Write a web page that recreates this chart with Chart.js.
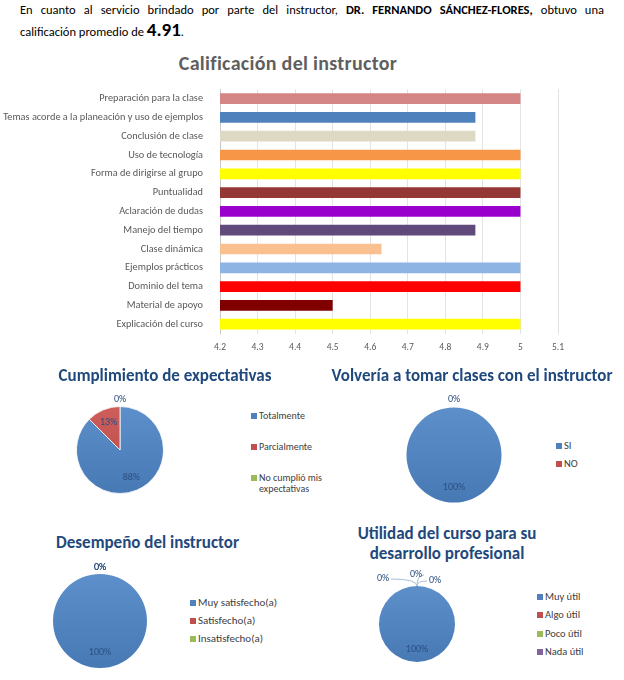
<!DOCTYPE html>
<html lang="es">
<head>
<meta charset="utf-8">
<title>Calificación del instructor</title>
<script src="https://cdn.jsdelivr.net/npm/chart.js@4.4.0/dist/chart.umd.min.js"></script>
<style>
  html, body { margin: 0; padding: 0; background: #fff; }
  body { width: 624px; height: 680px; position: relative; overflow: hidden; font-family: Carlito, Lato, sans-serif; }
  #intro { position: absolute; left: 20px; top: 0; width: 584px; margin: 0; font-size: 12.5px; line-height: 20px; color: #000; }
  #intro .l1 { display: block; text-align: justify; text-align-last: justify; }
  #intro .big { font-size: 19px; line-height: 1; }
  .ttl { position: absolute; margin: 0; font-weight: bold; color: #1f497d; text-align: center; white-space: nowrap; }
  #barTitle { left: 88px; width: 400px; top: 51px; font-size: 20px; color: #5f5f5f; letter-spacing: 0.3px; }
  canvas { position: absolute; }
  ul.lg { position: absolute; margin: 0; padding: 0; list-style: none; color: #404040; }
  ul.lg li { display: flex; align-items: flex-start; }
  ul.lg .box { flex: none; width: 6px; height: 6px; margin-right: 2px; }
  ul.lg .txt { display: inline-block; }
</style>
</head>
<body>
<p id="intro"><span class="l1">En cuanto al servicio brindado por parte del instructor, <b>DR. FERNANDO SÁNCHEZ-FLORES,</b> obtuvo una</span>calificación promedio de <b class="big">4.91</b>.</p>

<div id="barTitle" class="ttl">Calificación del instructor</div>
<canvas id="barChart" width="600" height="296" style="left:0;top:74px"></canvas>

<div class="ttl" style="left:40px;width:250px;top:365px;font-size:17px">Cumplimiento de expectativas</div>
<canvas id="pieExp" width="120" height="120" style="left:60px;top:390px"></canvas>
<ul id="lgExp" class="lg" style="left:251px;top:410px;font-size:10px;line-height:11px"></ul>

<div class="ttl" style="left:320px;width:304px;top:365px;font-size:17px">Volvería a tomar clases con el instructor</div>
<canvas id="pieVol" width="130" height="130" style="left:389px;top:390px"></canvas>
<ul id="lgVol" class="lg" style="left:556px;top:440px;font-size:10.5px;line-height:12px"></ul>

<div class="ttl" style="left:20px;width:255px;top:532px;font-size:17px">Desempeño del instructor</div>
<canvas id="pieDes" width="130" height="130" style="left:35px;top:556px"></canvas>
<ul id="lgDes" class="lg" style="left:190px;top:597px;font-size:11px;line-height:12px"></ul>

<div class="ttl" style="left:320px;width:254px;top:524px;font-size:17px;line-height:20px">Utilidad del curso para su<br>desarrollo profesional</div>
<canvas id="pieUti" width="140" height="118" style="left:347px;top:565px"></canvas>
<ul id="lgUti" class="lg" style="left:537px;top:591px;font-size:10.5px;line-height:12px"></ul>

<script>
// ---- data ----
const barLabels = [
  'Preparación para la clase',
  'Temas acorde a la planeación y uso de ejemplos',
  'Conclusión de clase',
  'Uso de tecnología',
  'Forma de dirigirse al grupo',
  'Puntualidad',
  'Aclaración de dudas',
  'Manejo del tiempo',
  'Clase dinámica',
  'Ejemplos prácticos',
  'Dominio del tema',
  'Material de apoyo',
  'Explicación del curso'
];
const barValues = [5, 4.88, 4.88, 5, 5, 5, 5, 4.88, 4.63, 5, 5, 4.5, 5];
const xTickLabels = ['4.2', '4.3', '4.4', '4.5', '4.6', '4.7', '4.8', '4.9', '5', '5.1'];

const expLabels = ['Totalmente', 'Parcialmente', 'No cumplió mis expectativas'];
const expValues = [87.5, 12.5, 0];

const volLabels = ['SI', 'NO'];
const volValues = [100, 0];

const desLabels = ['Muy satisfecho(a)', 'Satisfecho(a)', 'Insatisfecho(a)'];
const desValues = [100, 0, 0];

const utiLabels = ['Muy útil', 'Algo útil', 'Poco útil', 'Nada útil'];
const utiValues = [100, 0, 0, 0];

// ---- styles ----
const barColors = ['#d48585', '#4f81bd', '#ddd9c3', '#f79646', '#ffff00', '#953735', '#9900cc',
                   '#604a7b', '#fac090', '#8eb4e3', '#ff0000', '#800000', '#ffff00'];
const pieColors = ['#4f81bd', '#c0504d', '#9bbb59', '#8064a2'];

Chart.defaults.font.family = 'Carlito, Lato, sans-serif';
Chart.defaults.animation = false;

function shade(hex, amt) {
  const n = parseInt(hex.slice(1), 16);
  const f = c => Math.max(0, Math.min(255, Math.round(c + amt)));
  return `rgb(${f(n >> 16)}, ${f((n >> 8) & 255)}, ${f(n & 255)})`;
}

// soft top-to-bottom gradient like the office pies
function pieFill(ctx) {
  const base = pieColors[ctx.dataIndex];
  const area = ctx.chart.chartArea;
  if (!area) return base;
  const g = ctx.chart.ctx.createLinearGradient(0, area.top, 0, area.bottom);
  g.addColorStop(0, shade(base, 14));
  g.addColorStop(1, shade(base, -8));
  return g;
}

// legend built as html list from the chart's own legend items
const htmlLegend = {
  id: 'htmlLegend',
  afterUpdate(chart, args, opts) {
    const ul = document.getElementById(opts.containerID);
    if (!ul) return;
    ul.innerHTML = '';
    const items = chart.options.plugins.legend.labels.generateLabels(chart);
    items.forEach((item, i) => {
      const li = document.createElement('li');
      if (i > 0) li.style.marginTop = opts.gap + 'px';
      const box = document.createElement('span');
      box.className = 'box';
      box.style.background = typeof item.fillStyle === 'string' ? item.fillStyle : pieColors[item.index];
      box.style.marginTop = opts.boxTop + 'px';
      const txt = document.createElement('span');
      txt.className = 'txt';
      if (opts.textWidth) txt.style.width = opts.textWidth + 'px';
      txt.textContent = item.text;
      li.appendChild(box);
      li.appendChild(txt);
      ul.appendChild(li);
    });
  }
};

// percentage labels, zero slices go outside the pie
const pieLabels = {
  id: 'pieLabels',
  afterDatasetsDraw(chart, args, opts) {
    const ctx = chart.ctx;
    const data = chart.data.datasets[0].data;
    const total = data.reduce((a, b) => a + b, 0);
    const meta = chart.getDatasetMeta(0);
    const offs = opts.zeroOffsets || [[0, -8]];
    let z = 0;
    ctx.save();
    ctx.font = opts.font || '10px Carlito, Lato, sans-serif';
    ctx.fillStyle = opts.color || '#2b4f80';
    ctx.textAlign = 'center';
    ctx.textBaseline = 'middle';
    meta.data.forEach((arc, i) => {
      const p = arc.getProps(['x', 'y', 'startAngle', 'endAngle', 'outerRadius'], true);
      const mid = (p.startAngle + p.endAngle) / 2;
      const txt = Math.round(data[i] / total * 100) + '%';
      let lx, ly;
      if (data[i] > 0) {
        lx = p.x + Math.cos(mid) * p.outerRadius * 0.68;
        ly = p.y + Math.sin(mid) * p.outerRadius * 0.68;
      } else {
        const ex = p.x + Math.cos(mid) * p.outerRadius;
        const ey = p.y + Math.sin(mid) * p.outerRadius;
        const o = offs[Math.min(z, offs.length - 1)];
        z++;
        lx = ex + o[0];
        ly = ey + o[1];
        if (opts.leader) {
          ctx.save();
          ctx.strokeStyle = '#a6bddb';
          ctx.lineWidth = 1;
          ctx.beginPath();
          ctx.moveTo(ex, ey);
          const tx = lx - Math.sign(o[0]) * 8;
          ctx.quadraticCurveTo(ex, ly + 1, tx, ly + 1);
          ctx.stroke();
          ctx.restore();
        }
      }
      ctx.fillText(txt, lx, ly);
    });
    ctx.restore();
  }
};

new Chart(document.getElementById('barChart'), {
  type: 'bar',
  data: {
    labels: barLabels,
    datasets: [{
      data: barValues,
      backgroundColor: barColors,
      barPercentage: 0.57,
      categoryPercentage: 1
    }]
  },
  options: {
    indexAxis: 'y',
    responsive: false,
    layout: { padding: { top: 8, bottom: 9, left: 0, right: 42 } },
    plugins: { legend: { display: false }, tooltip: { enabled: false } },
    scales: {
      x: {
        min: 4.2,
        max: 5.1,
        ticks: {
          stepSize: 0.1,
          padding: 8,
          color: '#595959',
          font: { size: 9.5 },
          callback: (v, i) => xTickLabels[i]
        },
        grid: { color: '#e3e3e3', drawTicks: false },
        border: { display: false }
      },
      y: {
        ticks: { color: '#595959', font: { size: 10.3 }, padding: 9 },
        grid: { display: false },
        border: { color: '#c8c8c8' },
        afterFit(scale) { scale.width = 220; }
      }
    }
  }
});

function makePie(id, labels, values, padding, legendOpts, labelOpts) {
  return new Chart(document.getElementById(id), {
    type: 'pie',
    data: {
      labels: labels,
      datasets: [{
        data: values,
        backgroundColor: pieFill,
        borderColor: 'rgba(255, 255, 255, 0.8)',
        borderWidth: ctx => (ctx.raw > 0 && ctx.raw < 100 ? 1 : 0)
      }]
    },
    options: {
      responsive: false,
      layout: { padding: padding },
      plugins: {
        legend: { display: false },
        tooltip: { enabled: false },
        htmlLegend: legendOpts,
        pieLabels: labelOpts
      }
    },
    plugins: [htmlLegend, pieLabels]
  });
}

makePie('pieExp', expLabels, expValues, 16,
  { containerID: 'lgExp', gap: 20, boxTop: 2.5, textWidth: 64 },
  { zeroOffsets: [[0, -7]] });

makePie('pieVol', volLabels, volValues, 17.5,
  { containerID: 'lgVol', gap: 6, boxTop: 3 },
  { zeroOffsets: [[0, -8]] });

makePie('pieDes', desLabels, desValues, 18,
  { containerID: 'lgDes', gap: 6, boxTop: 3 },
  { zeroOffsets: [[0, -7]] });

makePie('pieUti', utiLabels, utiValues, { top: 21, bottom: 21, left: 32, right: 32 },
  { containerID: 'lgUti', gap: 6.3, boxTop: 3 },
  { zeroOffsets: [[-34, -8], [-1, -12], [18, -6]], leader: true });
</script>
</body>
</html>
